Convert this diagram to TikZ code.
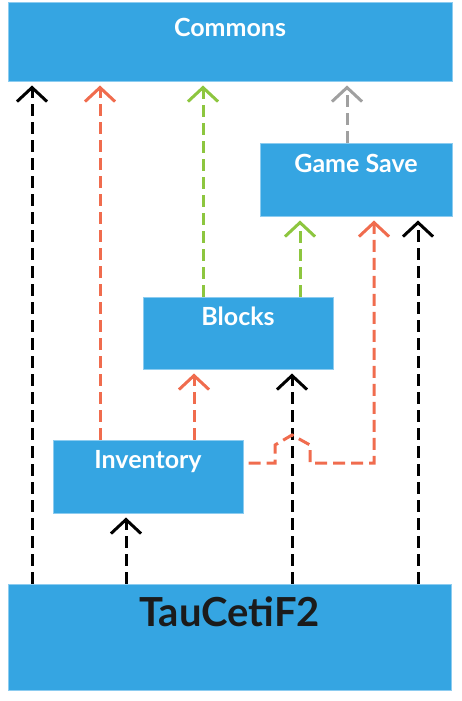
\documentclass[tikz,border=0pt]{standalone}
\usepackage{fontspec}
\setmainfont{Lato}
\usetikzlibrary{arrows.meta}
\definecolor{PkgBlue}{RGB}{53, 165, 226}
\definecolor{PkgEdge}{RGB}{140, 204, 240}
\definecolor{DepOrange}{RGB}{240, 108, 78}
\definecolor{DepGreen}{RGB}{141, 198, 63}
\definecolor{DepGray}{RGB}{160, 160, 160}
\definecolor{DarkText}{RGB}{27, 27, 27}

\begin{document}
\begin{tikzpicture}[x=1pt, y=-1pt,
    pkg/.style={rectangle, fill=PkgBlue, draw=PkgEdge, line width=1pt, inner sep=0pt},
    pkgtext/.style={anchor=base, inner sep=0pt, text=white, font=\bfseries\fontsize{25}{29}\selectfont},
    dep/.style={line width=3pt, dash pattern=on 12pt off 6pt, shorten >=4pt,
      -{Straight Barb[length=14pt, width=30pt]}}]
  \clip (0, 0) rectangle (462, 701);

  % Packages
  \node[pkg, minimum width=444pt, minimum height=78pt,
    label={[pkgtext, yshift=-34pt]north:Commons}] (commons) at (230, 42) {};
  \node[pkg, minimum width=192pt, minimum height=73pt,
    label={[pkgtext, yshift=-30pt]north:Game Save}] (gamesave) at (356, 179.5) {};
  \node[pkg, minimum width=190pt, minimum height=72pt,
    label={[pkgtext, yshift=-29pt]north:Blocks}] (blocks) at (238, 333) {};
  \node[pkg, minimum width=190pt, minimum height=73pt,
    label={[pkgtext, yshift=-29pt]north:Inventory}] (inventory) at (148, 476.5) {};
  \node[pkg, minimum width=443pt, minimum height=106pt,
    label={[pkgtext, yshift=-43pt, text=DarkText, font=\bfseries\fontsize{40}{46}\selectfont]north:TauCetiF2}]
    (taucetif2) at (229.5, 637) {};

  % Dependencies on Commons
  \draw[dep, black] (taucetif2.north -| 32,0) -- (commons.south -| 32,0);
  \draw[dep, DepOrange] (inventory.north -| 100,0) -- (commons.south -| 100,0);
  \draw[dep, DepGreen] (blocks.north -| 203,0) -- (commons.south -| 203,0);
  \draw[dep, DepGray] (gamesave.north -| 347,0) -- (commons.south -| 347,0);

  % Dependencies on Game Save
  \draw[dep, DepGreen] (blocks.north -| 300,0) -- (gamesave.south -| 300,0);
  \draw[dep, black] (taucetif2.north -| 418,0) -- (gamesave.south -| 418,0);

  % Dependencies on Blocks
  \draw[dep, DepOrange] (inventory.north -| 194,0) -- (blocks.south -| 194,0);
  \draw[dep, black] (taucetif2.north -| 292,0) -- (blocks.south -| 292,0);

  % Inventory to Game Save, hopping over the line to Blocks
  \draw[dep, DepOrange] ([xshift=5pt]inventory.east |- 0,463) -- (275, 463) -- (275, 445)
    -- (292, 435) -- (310, 445) -- (310, 463) -- (374, 463) -- (gamesave.south -| 374,0);

  % Dependency on Inventory
  \draw[dep, black] (taucetif2.north -| 126,0) -- (inventory.south -| 126,0);
\end{tikzpicture}
\end{document}
